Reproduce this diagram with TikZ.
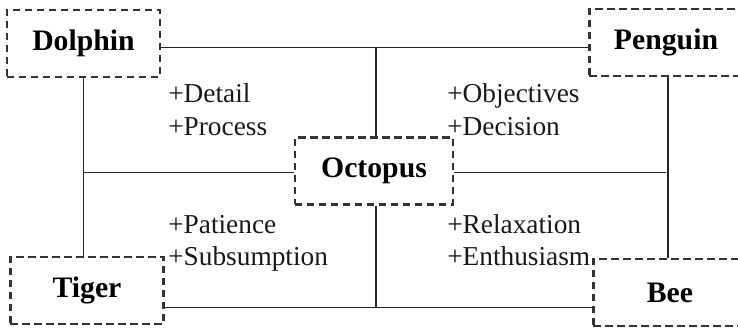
\documentclass[tikz,border=0pt]{standalone}
\usepackage{fontspec}
\setmainfont{Liberation Serif}
\begin{document}
\begin{tikzpicture}[x=0.75pt,y=-0.75pt,
  animal/.style={draw=black!80, line width=1.9pt, dash pattern=on 5.5pt off 3.5pt,
    inner sep=0pt, minimum width=115pt, minimum height=50pt,
    font=\fontsize{22.3}{26}\selectfont\bfseries},
  conn/.style={draw=black!85, line width=0.8pt},
  lab/.style={anchor=base west, inner sep=0pt, font=\fontsize{20.5}{24}\selectfont, text=black!90}]
\useasboundingbox (0,0) rectangle (738,329);
\clip (0,0) rectangle (738,329);
\node[animal] (dolphin) at (83.5,43.5) {Dolphin};
\node[animal] (penguin) at (666,42.5) {Penguin};
\node[animal, minimum width=118.5pt] (octopus) at (374,171) {Octopus};
\node[animal] (tiger) at (87,290.5) {Tiger};
\node[animal, minimum height=50pt] (bee) at (670,292.5) {Bee};
% connectors
\draw[conn] ([yshift=-3pt]dolphin.east) -- ([yshift=-3pt]dolphin.east -| penguin.west);
\draw[conn] ([xshift=1.5pt]octopus.north) -- ([xshift=1.5pt,yshift=-3pt]octopus.north |- dolphin.east);
\draw[conn] (dolphin.south) -- (dolphin.south |- tiger.north);
\draw[conn] ([yshift=-0.8pt]octopus.west) -- ([yshift=-0.8pt]octopus.west -| dolphin.south);
\draw[conn] ([yshift=-0.8pt]octopus.east) -- ([yshift=-0.8pt]octopus.east -| penguin.south);
\draw[conn] ([xshift=1.5pt]penguin.south) -- ([xshift=1.5pt]penguin.south |- bee.north);
\draw[conn] ([yshift=-12.4pt]tiger.east) -- ([yshift=-12.4pt]tiger.east -| bee.west);
\draw[conn] ([xshift=1.5pt]octopus.south) -- ([xshift=1.5pt,yshift=-12.4pt]octopus.south |- tiger.east);
% labels
\node[lab] (l1) at (168,102) {+Detail};
\node[lab] (l2) at (168,135) {+Process};
\node[lab] (l3) at (447,102) {+Objectives};
\node[lab] (l4) at (447,135) {+Decision};
\node[lab] (l5) at (168,233) {+Patience};
\node[lab] (l6) at (168,265) {+Subsumption};
\node[lab] (l7) at (447,233) {+Relaxation};
\node[lab] (l8) at (447,265) {+Enthusiasm};
\end{tikzpicture}
\end{document}
